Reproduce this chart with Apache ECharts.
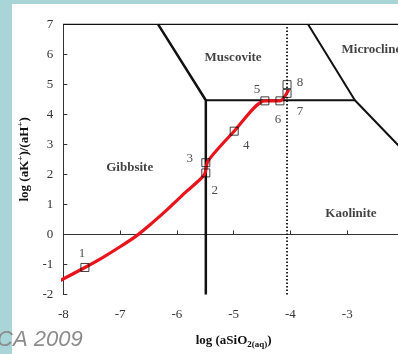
<!DOCTYPE html>
<html><head><meta charset="utf-8">
<script src="https://cdn.jsdelivr.net/npm/echarts@6/dist/echarts.min.js"></script>
<style>html,body{margin:0;padding:0;background:#a9d5d8;}#c{width:398px;height:354px;}</style>
</head><body><div id="c"></div>
<script>
// Axis ranges
const xRange = [-8, -2];
const yRange = [-2, 7];
// Reaction path (red curve)
const pathX = [-8.07, -7.62, -7.3, -7.0, -6.7, -6.45, -6.18, -5.85, -5.52, -5.45, -4.99, -4.45, -4.185, -4.03];
const pathY = [-1.55, -1.10, -0.76, -0.41, -0.03, 0.36, 0.81, 1.40, 1.98, 2.45, 3.44, 4.45, 4.45, 4.82];
// Numbered sample points
const pointLabels = ['1', '2', '3', '4', '5', '6', '7', '8'];
const pointX = [-7.62, -5.49, -5.49, -4.99, -4.45, -4.185, -4.06, -4.06];
const pointY = [-1.10, 2.05, 2.39, 3.44, 4.45, 4.45, 4.70, 4.99];
// Phase boundaries
const gibbsMuscX = [-6.33, -5.49, -5.49];
const gibbsMuscY = [7, 4.47, -2];
const muscKaolX = [-5.49, -2.865];
const muscKaolY = [4.47, 4.47];
const microX = [-3.69, -2.865, -2];
const microY = [7, 4.47, 2.77];
const quartzX = [-4.06, -4.06];
const quartzY = [-2, 7];
const topX = [-8, -2];
const topY = [7, 7];
// Field names
const fieldNames = ['Gibbsite', 'Muscovite', 'Microcline', 'Kaolinite'];
const fieldX = [-6.83, -5.01, -3.10, -2.935];
const fieldY = [2.21, 5.89, 6.14, 0.70];

const zip = (a, b) => a.map((v, i) => [v, b[i]]);
const labelOffsets = [[-3, -14], [9, 18], [-16, -4], [12, 14], [-8, -11], [-2, 19], [13, 18], [13, -2]];
const fieldAlign = ['center', 'center', 'left', 'center'];

const serif = '"Liberation Serif", "Times New Roman", serif';
const chart = echarts.init(document.getElementById('c'), null, {renderer: 'canvas'});
const blackLine = (x, y, w, type) => ({
  type: 'line', data: zip(x, y), symbol: 'none', silent: true, z: 3,
  lineStyle: {color: '#111', width: w, type: type || 'solid'}, animation: false
});
chart.setOption({
  animation: false,
  backgroundColor: '#a9d5d8',
  graphic: [
    {type: 'rect', left: 12, top: 4, shape: {width: 386, height: 350}, style: {fill: '#ffffff'}, z: -10},
    {type: 'text', left: -3, top: 329, style: {text: 'CA 2009', font: 'italic 22px "Liberation Sans", Arial, sans-serif', fill: '#8c8c8c'}, z: 10}
  ],
  grid: {left: 63.3, top: 24.3, right: -6, bottom: 59.5, outerBoundsMode: 'none', containLabel: false},
  xAxis: {
    type: 'value', min: xRange[0], max: xRange[1], interval: 1,
    name: 'log (aSiO{sub|2(aq)})', nameLocation: 'middle', nameGap: 38,
    nameTextStyle: {fontFamily: serif, fontWeight: 'bold', fontSize: 13, color: '#111',
      rich: {sub: {fontFamily: serif, fontWeight: 'bold', fontSize: 9, verticalAlign: 'bottom', padding: [8, 0, 0, 0], color: '#111'}}},
    axisLine: {lineStyle: {color: '#333', width: 1}},
    axisTick: {inside: true, length: 4, lineStyle: {color: '#333'}},
    axisLabel: {fontFamily: serif, fontSize: 13, color: '#333', margin: 14},
    splitLine: {show: false}
  },
  yAxis: {
    type: 'value', min: yRange[0], max: yRange[1], interval: 1,
    name: 'log (aK{sup|+})/(aH{sup|+})', nameLocation: 'middle', nameGap: 28,
    nameTextStyle: {fontFamily: serif, fontWeight: 'bold', fontSize: 13, color: '#111',
      rich: {sup: {fontFamily: serif, fontWeight: 'bold', fontSize: 9, verticalAlign: 'top', padding: [0, 0, 8, 0], color: '#111'}}},
    axisLine: {lineStyle: {color: '#333', width: 1}},
    axisTick: {inside: true, length: 4, lineStyle: {color: '#333'}},
    axisLabel: {fontFamily: serif, fontSize: 13, color: '#333', margin: 10},
    splitLine: {show: false}
  },
  series: [
    blackLine(topX, topY, 1.5),
    blackLine(gibbsMuscX, gibbsMuscY, 2.5),
    blackLine(muscKaolX, muscKaolY, 2),
    blackLine(microX, microY, 2),
    blackLine(quartzX, quartzY, 1.8, [1.5, 2]),
    {
      type: 'line', data: zip(pathX, pathY), symbol: 'none', smooth: 0.25, clip: false, z: 5,
      lineStyle: {color: '#e8141c', width: 3.2}
    },
    {
      type: 'scatter', z: 6, symbol: 'rect', symbolSize: 8,
      itemStyle: {color: 'rgba(0,0,0,0)', borderColor: '#111', borderWidth: 1},
      data: pointLabels.map((l, i) => ({
        value: [pointX[i], pointY[i]], name: l,
        label: {show: true, formatter: l, position: 'inside', offset: labelOffsets[i],
          fontFamily: serif, fontSize: 13, color: '#222'}
      }))
    },
    {
      type: 'scatter', z: 7, symbolSize: 0, silent: true,
      data: fieldNames.map((n, i) => ({
        value: [fieldX[i], fieldY[i]],
        label: {show: true, formatter: n, position: 'inside', align: fieldAlign[i],
          fontFamily: serif, fontWeight: 'bold', fontSize: 13, color: '#111'}
      }))
    }
  ]
});
</script></body></html>
